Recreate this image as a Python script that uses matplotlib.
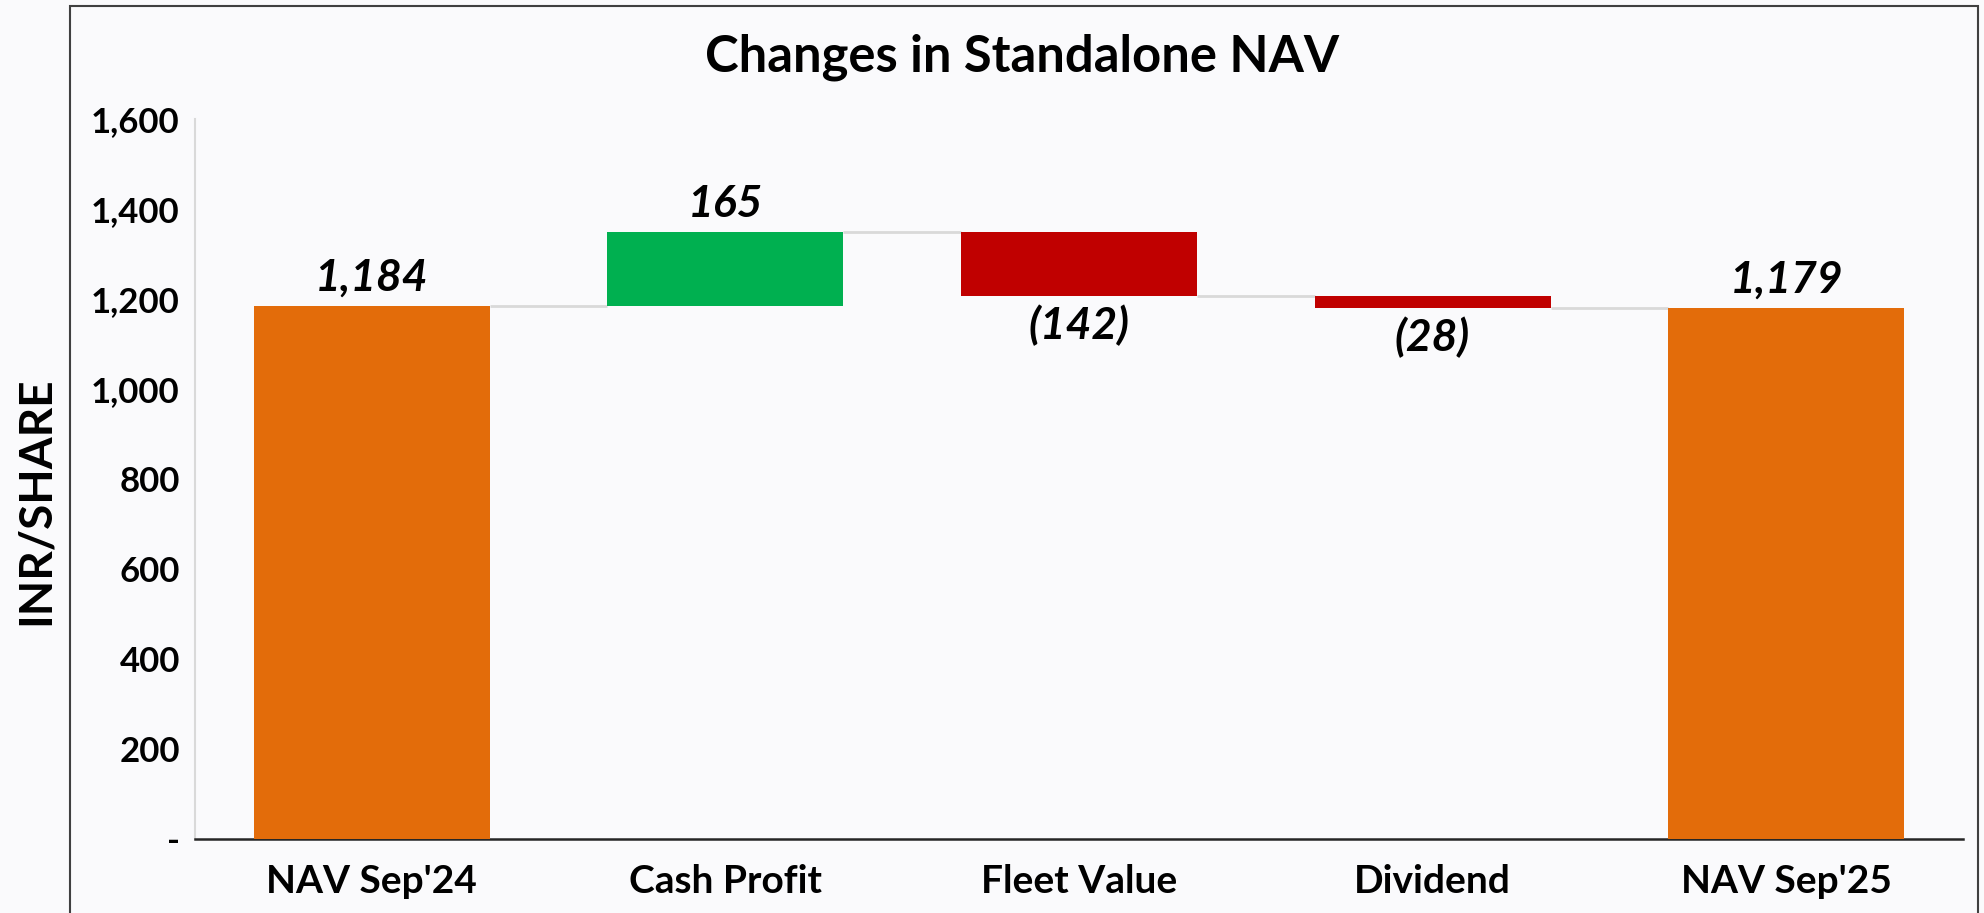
import matplotlib
matplotlib.use("Agg")
import matplotlib.pyplot as plt
from matplotlib.patches import Rectangle
import numpy as np

categories = ["NAV Sep'24", "Cash Profit", "Fleet Value", "Dividend", "NAV Sep'25"]
values = [1184, 165, -142, -28, 1179]
kinds = ["total", "delta", "delta", "delta", "total"]
value_labels = ["1,184", "165", "(142)", "(28)", "1,179"]
yticks = [0, 200, 400, 600, 800, 1000, 1200, 1400, 1600]
ytick_labels = ["-", "200", "400", "600", "800", "1,000", "1,200", "1,400", "1,600"]

ORANGE = "#E36C0A"
GREEN = "#00B050"
RED = "#C00000"
BG = "#FAFAFC"
FONT = ["Lato", "DejaVu Sans"]

plt.rcParams["font.family"] = FONT

fig = plt.figure(figsize=(19.84, 9.13), dpi=100, facecolor=BG)
ax = fig.add_axes([0.0983, 0.0810, 0.8911, 0.7887])
ax.set_facecolor(BG)

x = np.arange(len(categories))
width = 0.667
bottoms, heights, colors, tops = [], [], [], []
running = 0
for v, k in zip(values, kinds):
    if k == "total":
        bottoms.append(0)
        heights.append(v)
        colors.append(ORANGE)
        running = v
    else:
        if v >= 0:
            bottoms.append(running)
            heights.append(v)
            colors.append(GREEN)
        else:
            bottoms.append(running + v)
            heights.append(-v)
            colors.append(RED)
        running += v
    tops.append(running)

ax.bar(x, heights, bottom=bottoms, width=width, color=colors, zorder=3)

# connector lines
for i in range(len(x) - 1):
    ax.plot([x[i] + width / 2, x[i + 1] - width / 2], [tops[i], tops[i]],
            color="#D9D9D9", lw=2, zorder=2, solid_capstyle="butt")

# data labels
for i, (v, k) in enumerate(zip(values, kinds)):
    if v >= 0:
        ax.annotate(value_labels[i], (x[i], bottoms[i] + heights[i]),
                    xytext=(0, 6), textcoords="offset points", ha="center", va="bottom",
                    fontsize=32, fontweight="bold", fontstyle="italic")
    else:
        ax.annotate(value_labels[i], (x[i], bottoms[i]),
                    xytext=(0, -6), textcoords="offset points", ha="center", va="top",
                    fontsize=32, fontweight="bold", fontstyle="italic")

ax.set_xlim(-0.5, len(categories) - 0.5)
ax.set_ylim(0, 1600)
ax.set_xticks(x)
ax.set_xticklabels(categories, fontsize=28, fontweight="bold")
ax.set_yticks(yticks)
ax.set_yticklabels(ytick_labels, fontsize=25, fontweight="bold")
ax.tick_params(axis="both", length=0)
ax.tick_params(axis="x", pad=18)
ax.tick_params(axis="y", pad=11)

for s in ["top", "right"]:
    ax.spines[s].set_visible(False)
ax.spines["left"].set_color("#D9D9D9")
ax.spines["left"].set_linewidth(1.5)
ax.spines["bottom"].set_color("#262626")
ax.spines["bottom"].set_linewidth(1.8)

fig.text(0.515, 0.9376, "Changes in Standalone NAV", ha="center", va="center",
         fontsize=36.5, fontweight="bold")
fig.text(0.018, 0.452, "INR/SHARE", ha="center", va="center", rotation=90,
         fontsize=33, fontweight="bold")

# chart-area border
fig.patches.append(Rectangle((70 / 1984, -0.02), (1978 - 70) / 1984, 1.02 - 6 / 913,
                             transform=fig.transFigure, fill=False,
                             edgecolor="#404040", lw=1.5, zorder=0))

fig.savefig("out.png", dpi=100, facecolor=BG)
